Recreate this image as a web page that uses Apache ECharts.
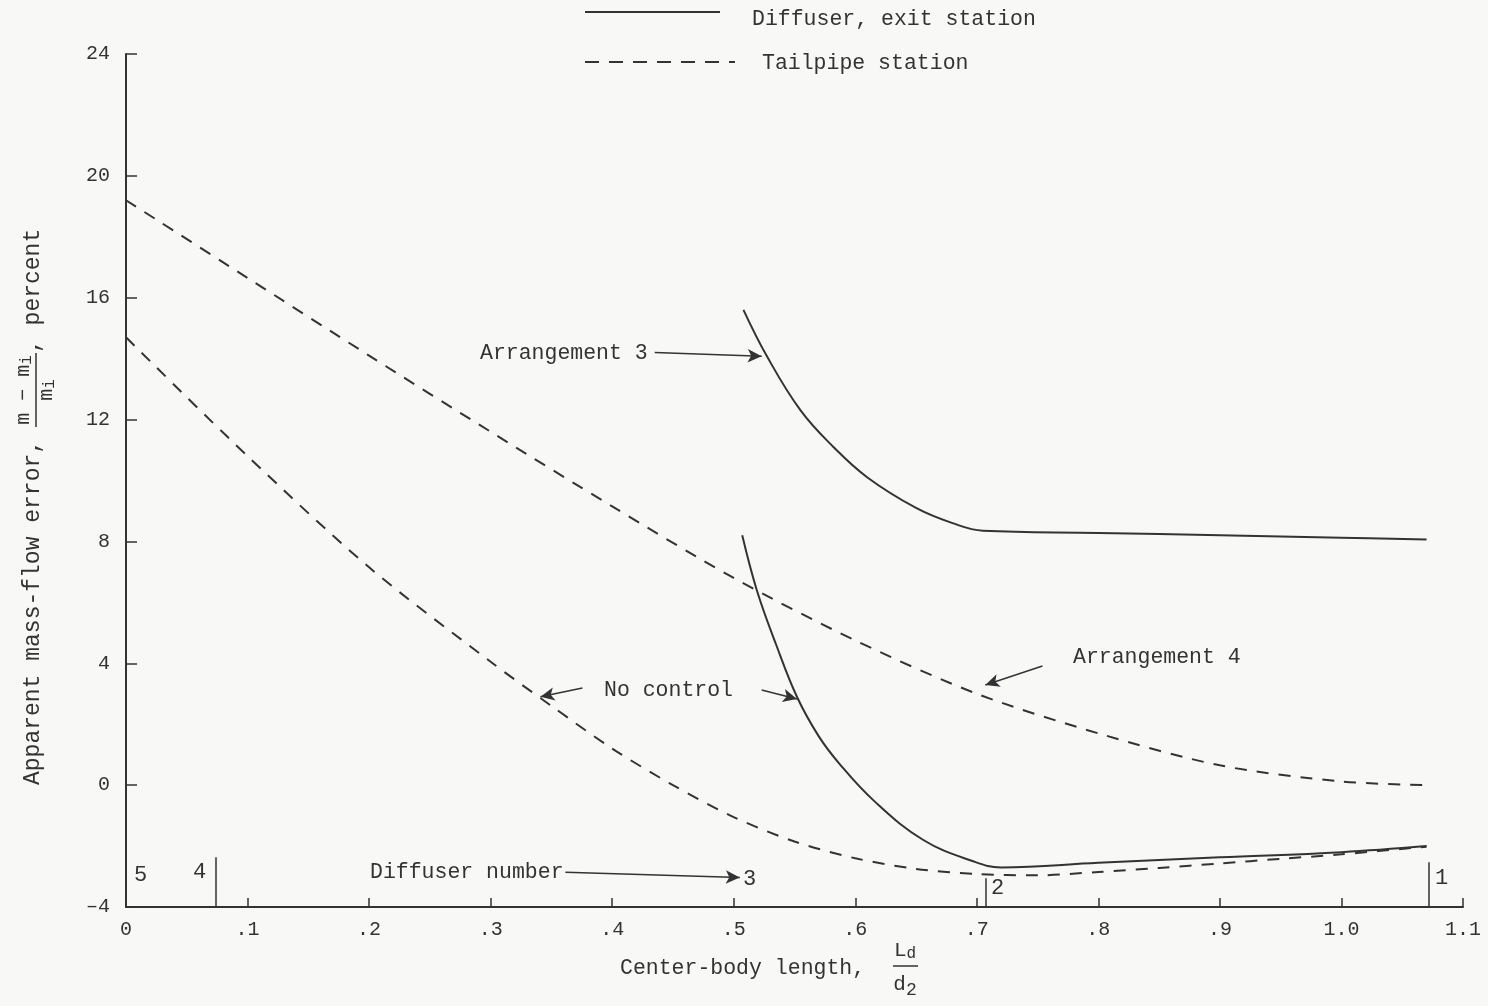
<!DOCTYPE html>
<html>
<head>
<meta charset="utf-8">
<script src="https://cdn.jsdelivr.net/npm/echarts@6/dist/echarts.min.js"></script>
<style>
  html, body { margin: 0; padding: 0; background: #f8f8f6; }
  #chart { width: 1488px; height: 1006px; }
</style>
</head>
<body>
<div id="chart"></div>
<script>
// Arrangement 4 (tailpipe station, dashed)
var arr4X = [0, 0.1, 0.2, 0.3, 0.4, 0.5, 0.6, 0.7, 0.8, 0.9, 1.0, 1.07];
var arr4Y = [19.2, 16.65, 14.1, 11.6, 9.15, 6.8, 4.75, 3.0, 1.7, 0.65, 0.12, 0.0];

// No control (tailpipe station, dashed)
var noCtrlTpX = [0, 0.1, 0.2, 0.3, 0.35, 0.4, 0.45, 0.5, 0.55, 0.6, 0.65, 0.7, 0.75, 0.8, 0.85, 0.9, 0.95, 1.0, 1.07];
var noCtrlTpY = [14.7, 10.8, 7.15, 4.05, 2.6, 1.2, 0.0, -1.05, -1.85, -2.4, -2.75, -2.92, -2.96, -2.85, -2.72, -2.57, -2.42, -2.27, -2.02];

// Arrangement 3 (diffuser exit station, solid)
var arr3X = [0.508, 0.527, 0.555, 0.582, 0.61, 0.65, 0.68, 0.705, 0.8, 0.9, 1.0, 1.07];
var arr3Y = [15.6, 14.1, 12.3, 11.1, 10.1, 9.1, 8.6, 8.35, 8.28, 8.2, 8.12, 8.06];

// No control (diffuser exit station, solid)
var noCtrlExX = [0.507, 0.519, 0.535, 0.552, 0.57, 0.587, 0.615, 0.656, 0.697, 0.72, 0.8, 0.9, 1.0, 1.07];
var noCtrlExY = [8.2, 6.4, 4.6, 2.9, 1.6, 0.7, -0.5, -1.8, -2.5, -2.7, -2.55, -2.37, -2.2, -2.0];

// diffuser number marks on the x axis: [x, top of tick]
var diffuserTicks = [[0.074, -2.37], [0.707, -3.06], [1.072, -2.53]];

// annotation arrows: [x0, y0, x1, y1]
var arrows = [
  [0.435, 14.2, 0.523, 14.08],
  [0.3755, 3.19, 0.341, 2.9],
  [0.523, 3.12, 0.552, 2.83],
  [0.754, 3.91, 0.707, 3.29],
  [0.3615, -2.86, 0.505, -3.03]
];

var ink = "#333";
var mono = "'Liberation Mono', 'DejaVu Sans Mono', monospace";

function pairs(xs, ys) {
  return xs.map(function (x, i) { return [x, ys[i]]; });
}

function txt(x, y, s, size) {
  return {
    type: "text",
    x: x,
    y: y,
    style: {
      text: s,
      fill: ink,
      font: (size || 21.5) + "px " + mono,
      verticalAlign: "middle"
    }
  };
}

var myChart = echarts.init(document.getElementById("chart"));

var option = {
  backgroundColor: "#f8f8f6",
  animation: false,
  grid: { left: 126, right: 25, top: 54, bottom: 99 },
  xAxis: {
    type: "value",
    min: 0,
    max: 1.1,
    interval: 0.1,
    splitLine: { show: false },
    axisLine: { onZero: false, lineStyle: { color: ink, width: 2 } },
    axisTick: { inside: true, length: 9, lineStyle: { color: ink, width: 1.5 } },
    axisLabel: {
      color: ink,
      fontFamily: mono,
      fontSize: 20,
      margin: 13,
      formatter: function (v) {
        if (v === 0) return "0";
        if (v >= 0.999) return v.toFixed(1);
        return "." + Math.round(v * 10);
      }
    }
  },
  yAxis: {
    type: "value",
    min: -4,
    max: 24,
    interval: 4,
    splitLine: { show: false },
    axisLine: { lineStyle: { color: ink, width: 2 } },
    axisTick: { inside: true, length: 11, lineStyle: { color: ink, width: 1.5 } },
    axisLabel: {
      color: ink,
      fontFamily: mono,
      fontSize: 20,
      margin: 16,
      formatter: function (v) { return String(v).replace("-", "\u2013"); }
    }
  },
  series: [
    {
      name: "Arrangement 4",
      type: "line",
      data: pairs(arr4X, arr4Y),
      showSymbol: false,
      smooth: 0.3,
      lineStyle: { color: ink, width: 2, type: [12, 10] }
    },
    {
      name: "No control, tailpipe",
      type: "line",
      data: pairs(noCtrlTpX, noCtrlTpY),
      showSymbol: false,
      smooth: 0.3,
      lineStyle: { color: ink, width: 2, type: [12, 10] }
    },
    {
      name: "Arrangement 3",
      type: "line",
      data: pairs(arr3X, arr3Y),
      showSymbol: false,
      smooth: 0.4,
      lineStyle: { color: ink, width: 2 }
    },
    {
      name: "No control, exit",
      type: "line",
      data: pairs(noCtrlExX, noCtrlExY),
      showSymbol: false,
      smooth: 0.4,
      lineStyle: { color: ink, width: 2 }
    },
    {
      name: "marks",
      type: "line",
      data: [],
      markLine: {
        silent: true,
        animation: false,
        label: { show: false },
        symbol: ["none", "none"],
        lineStyle: { color: ink, width: 1.5, type: "solid" },
        data: diffuserTicks.map(function (t) {
          return [{ coord: [t[0], -4] }, { coord: [t[0], t[1]] }];
        })
      }
    },
    {
      name: "arrows",
      type: "line",
      data: [],
      markLine: {
        silent: true,
        animation: false,
        label: { show: false },
        symbol: ["none", "arrow"],
        symbolSize: [10, 14],
        lineStyle: { color: ink, width: 1.5, type: "solid" },
        data: arrows.map(function (a) {
          return [{ coord: [a[0], a[1]] }, { coord: [a[2], a[3]] }];
        })
      }
    }
  ],
  graphic: [
    // legend
    { type: "line", shape: { x1: 585, y1: 12, x2: 720, y2: 12 }, style: { stroke: ink, lineWidth: 2 } },
    { type: "line", shape: { x1: 585, y1: 62, x2: 735, y2: 62 }, style: { stroke: ink, lineWidth: 2, lineDash: [14, 10] } },
    txt(752, 19, "Diffuser, exit station"),
    txt(762, 63, "Tailpipe station"),
    // annotations
    txt(480, 353, "Arrangement 3"),
    txt(604, 690, "No control"),
    txt(1073, 657, "Arrangement 4"),
    txt(370, 872, "Diffuser number"),
    txt(743, 879, "3", 22),
    txt(134, 875, "5", 22),
    txt(193, 872, "4", 22),
    txt(991, 888, "2", 22),
    txt(1435, 878, "1", 22),
    // x axis title
    txt(620, 968, "Center-body length,"),
    {
      type: "text",
      x: 905,
      y: 950,
      style: {
        text: "L{s|d}",
        fill: ink,
        font: "21px " + mono,
        align: "center",
        verticalAlign: "middle",
        rich: { s: { fontSize: 16, fontFamily: mono, fill: ink, padding: [8, 0, 0, 0] } }
      }
    },
    { type: "line", shape: { x1: 893, y1: 966, x2: 918, y2: 966 }, style: { stroke: ink, lineWidth: 1.5 } },
    {
      type: "text",
      x: 905,
      y: 984,
      style: {
        text: "d{s|2}",
        fill: ink,
        font: "21px " + mono,
        align: "center",
        verticalAlign: "middle",
        rich: { s: { fontSize: 18, fontFamily: mono, fill: ink, padding: [12, 0, 0, 0] } }
      }
    },
    // y axis title (rotated)
    {
      type: "group",
      x: 33,
      y: 785,
      rotation: Math.PI / 2,
      children: [
        {
          type: "text", x: 0, y: 0,
          style: { text: "Apparent mass-flow error,", fill: ink, font: "23px " + mono, align: "left", verticalAlign: "middle" }
        },
        {
          type: "text", x: 395, y: -9,
          style: { text: "m \u2212 m{s|i}", fill: ink, font: "20px " + mono, align: "center", verticalAlign: "middle",
                   rich: { s: { fontSize: 16, fontFamily: mono, fill: ink, padding: [6, 0, 0, 0] } } }
        },
        { type: "line", shape: { x1: 358, y1: 3, x2: 432, y2: 3 }, style: { stroke: ink, lineWidth: 1.5 } },
        {
          type: "text", x: 395, y: 14,
          style: { text: "m{s|i}", fill: ink, font: "20px " + mono, align: "center", verticalAlign: "middle",
                   rich: { s: { fontSize: 16, fontFamily: mono, fill: ink, padding: [6, 0, 0, 0] } } }
        },
        {
          type: "text", x: 432, y: 0,
          style: { text: ", percent", fill: ink, font: "23px " + mono, align: "left", verticalAlign: "middle" }
        }
      ]
    }
  ]
};

myChart.setOption(option);
</script>
</body>
</html>
